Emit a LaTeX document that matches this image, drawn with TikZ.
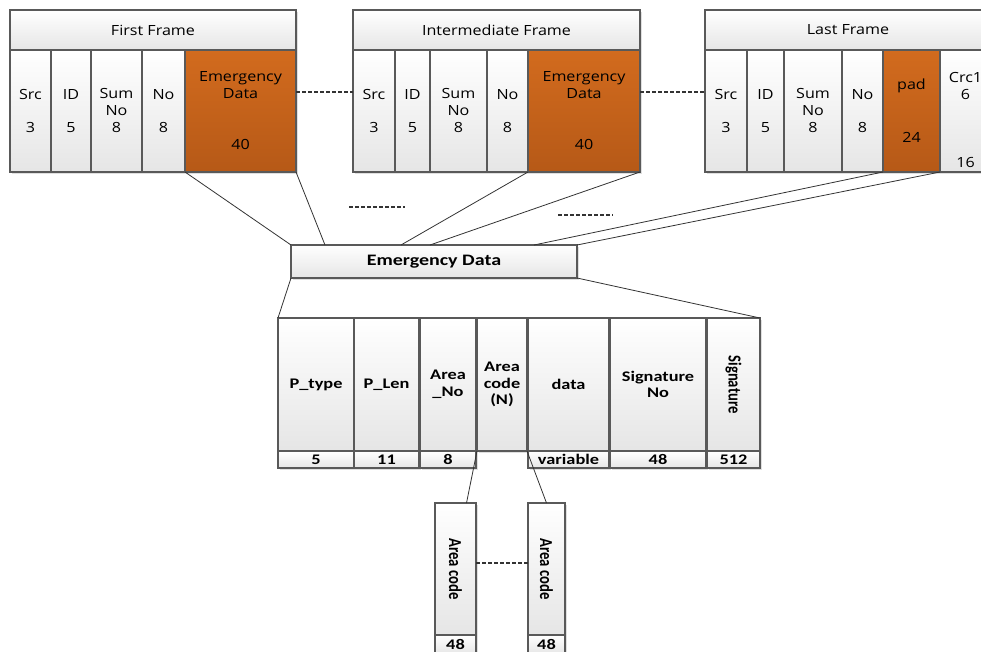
\documentclass[tikz,border=0pt]{standalone}
\usepackage{fontspec}
\usepackage{graphicx}
\usetikzlibrary{calc,shadows}
\newfontfamily\framefont{Open Sans}[FakeStretch=1.15]
\newfontfamily\tablefont{Carlito}[FakeStretch=1.25]
\newfontfamily\rotfont{Carlito}
\definecolor{hottop}{HTML}{D26B1E}
\definecolor{hotbot}{HTML}{B65917}

\begin{document}
\begin{tikzpicture}
                [x=0.75pt,y=-0.75pt,
                every node/.style={inner sep=0pt,outer sep=0pt,anchor=north west},
                box/.style 2 args={minimum width=#1*0.75pt,minimum height=#2*0.75pt},
                cell/.style={draw=black!65,line width=0.9pt,top color=white,bottom color=black!10,
                  drop shadow={opacity=0.25,shadow xshift=1.2pt,shadow yshift=-1.2pt},
                  align=center,font=\framefont\fontsize{10.5}{12.75}\selectfont},
                hot/.style={cell,top color=hottop,bottom color=hotbot},
                bold/.style={cell,font=\tablefont\bfseries\fontsize{11}{12.4}\selectfont},
                link/.style={draw=black!80,line width=0.6pt},
                gap/.style={link,line width=0.9pt,dash pattern=on 3pt off 1.5pt}]
                \useasboundingbox (0,0) rectangle (981,652);
                \clip (0,0) rectangle (981,652);
                % first frame
                \node[cell,box={286}{40}] (ff) at (10,10) {First Frame};
                \node[cell,box={41}{122}] (ff-src) at (10,50) {Src\\[12pt]3};
                \node[cell,box={40}{122}] (ff-id) at (51,50) {ID\\[12pt]5};
                \node[cell,box={51}{122}] (ff-sum) at (91,50) {Sum\\No\\8};
                \node[cell,box={43}{122}] (ff-no) at (142,50) {No\\[12pt]8};
                \node[hot,box={111}{122}] (ff-ed) at (185,50) {Emergency\\Data\\[25.5pt]40};
                % intermediate frame
                \node[cell,box={287}{40}] (if) at (353,10) {Intermediate Frame};
                \node[cell,box={42}{122}] (if-src) at (353,50) {Src\\[12pt]3};
                \node[cell,box={35}{122}] (if-id) at (395,50) {ID\\[12pt]5};
                \node[cell,box={57}{122}] (if-sum) at (430,50) {Sum\\No\\8};
                \node[cell,box={41}{122}] (if-no) at (487,50) {No\\[12pt]8};
                \node[hot,box={112}{122}] (if-ed) at (528,50) {Emergency\\Data\\[25.5pt]40};
                % last frame
                \node[cell,box={286}{40}] (lf) at (705,10) {Last Frame};
                \node[cell,box={42}{122}] (lf-src) at (705,50) {Src\\[12pt]3};
                \node[cell,box={37}{122}] (lf-id) at (747,50) {ID\\[12pt]5};
                \node[cell,box={58}{122}] (lf-sum) at (784,50) {Sum\\No\\8};
                \node[cell,box={41}{122}] (lf-no) at (842,50) {No\\[12pt]8};
                \node[hot,box={57}{122}] (lf-pad) at (883,50) {pad\\[27pt]24};
                \node[cell,box={51}{122}] (lf-crc) at (940,50) {\raisebox{0pt}[21pt][0pt]{Crc1}\\6\\[38pt]16};
                \draw[gap] ($(ff-ed.north east)+(0,42)$) -- ($(if-src.north west)+(0,42)$);
                \draw[gap] ($(if-ed.north east)+(0,42)$) -- ($(lf-src.north west)+(0,42)$);
                \draw[gap] (349,207) -- (405,207);
                \draw[gap] (558,215) -- (613,215);
                % emergency data
                \node[bold,box={286}{33},font=\tablefont\bfseries\fontsize{12}{13}\selectfont] (ed) at (291,245) {Emergency Data};
                \draw[link] (ff-ed.south west) -- (ed.north west);
                \draw[link] (ff-ed.south east) -- ($(ed.north west)+(34,0)$);
                \draw[link] (if-ed.south west) -- ($(ed.north west)+(110,0)$);
                \draw[link] (if-ed.south east) -- ($(ed.north west)+(139,0)$);
                \draw[link] (lf-pad.south west) -- ($(ed.north west)+(243,0)$);
                \draw[link] (lf-pad.south east) -- (ed.north east);
                % payload fields
                \node[bold,box={76}{133}] (pt) at (278,318) {P\_type};
                \node[bold,box={65}{133}] (pl) at (354,318) {P\_Len};
                \node[bold,box={56}{133}] (an) at (420,318) {Area\\\_No};
                \node[bold,box={50}{133}] (ac) at (477,318) {Area\\code\\(N)};
                \node[bold,box={81}{133}] (da) at (528,318) {data};
                \node[bold,box={96}{133}] (sn) at (610,318) {Signature\\No};
                \node[bold,box={53}{133}] (sg) at (707,318) {\rotatebox{-90}{\scalebox{1}[1.25]{\rotfont\bfseries\fontsize{11}{12}\selectfont Signature}}};
                \node[bold,box={76}{17}] (pt-n) at (278,451) {5};
                \node[bold,box={65}{17}] (pl-n) at (354,451) {11};
                \node[bold,box={56}{17}] (an-n) at (420,451) {8};
                \node[bold,box={81}{17}] (da-n) at (528,451) {variable};
                \node[bold,box={96}{17}] (sn-n) at (610,451) {48};
                \node[bold,box={53}{17}] (sg-n) at (707,451) {512};
                \draw[link] (ed.south west) -- (pt.north west);
                \draw[link] (ed.south east) -- (sg.north east);
                % area codes
                \node[bold,box={41}{132}] (ac1) at (435,503) {\rotatebox{-90}{\scalebox{1}[1.25]{\rotfont\bfseries\fontsize{11}{12}\selectfont Area code}}};
                \node[bold,box={41}{19}] (ac1-n) at (435,635) {48};
                \node[bold,box={37}{132}] (ac2) at (528,503) {\rotatebox{-90}{\scalebox{1}[1.25]{\rotfont\bfseries\fontsize{11}{12}\selectfont Area code}}};
                \node[bold,box={37}{19}] (ac2-n) at (528,635) {48};
                \draw[link] (ac.south west) -- ($(ac1.north)+(11,0)$);
                \draw[link] (ac.south east) -- (ac2.north);
                \draw[gap] ($(ac1.east)+(0,-6)$) -- ($(ac2.west)+(0,-6)$);
            \end{tikzpicture}
\end{document}
